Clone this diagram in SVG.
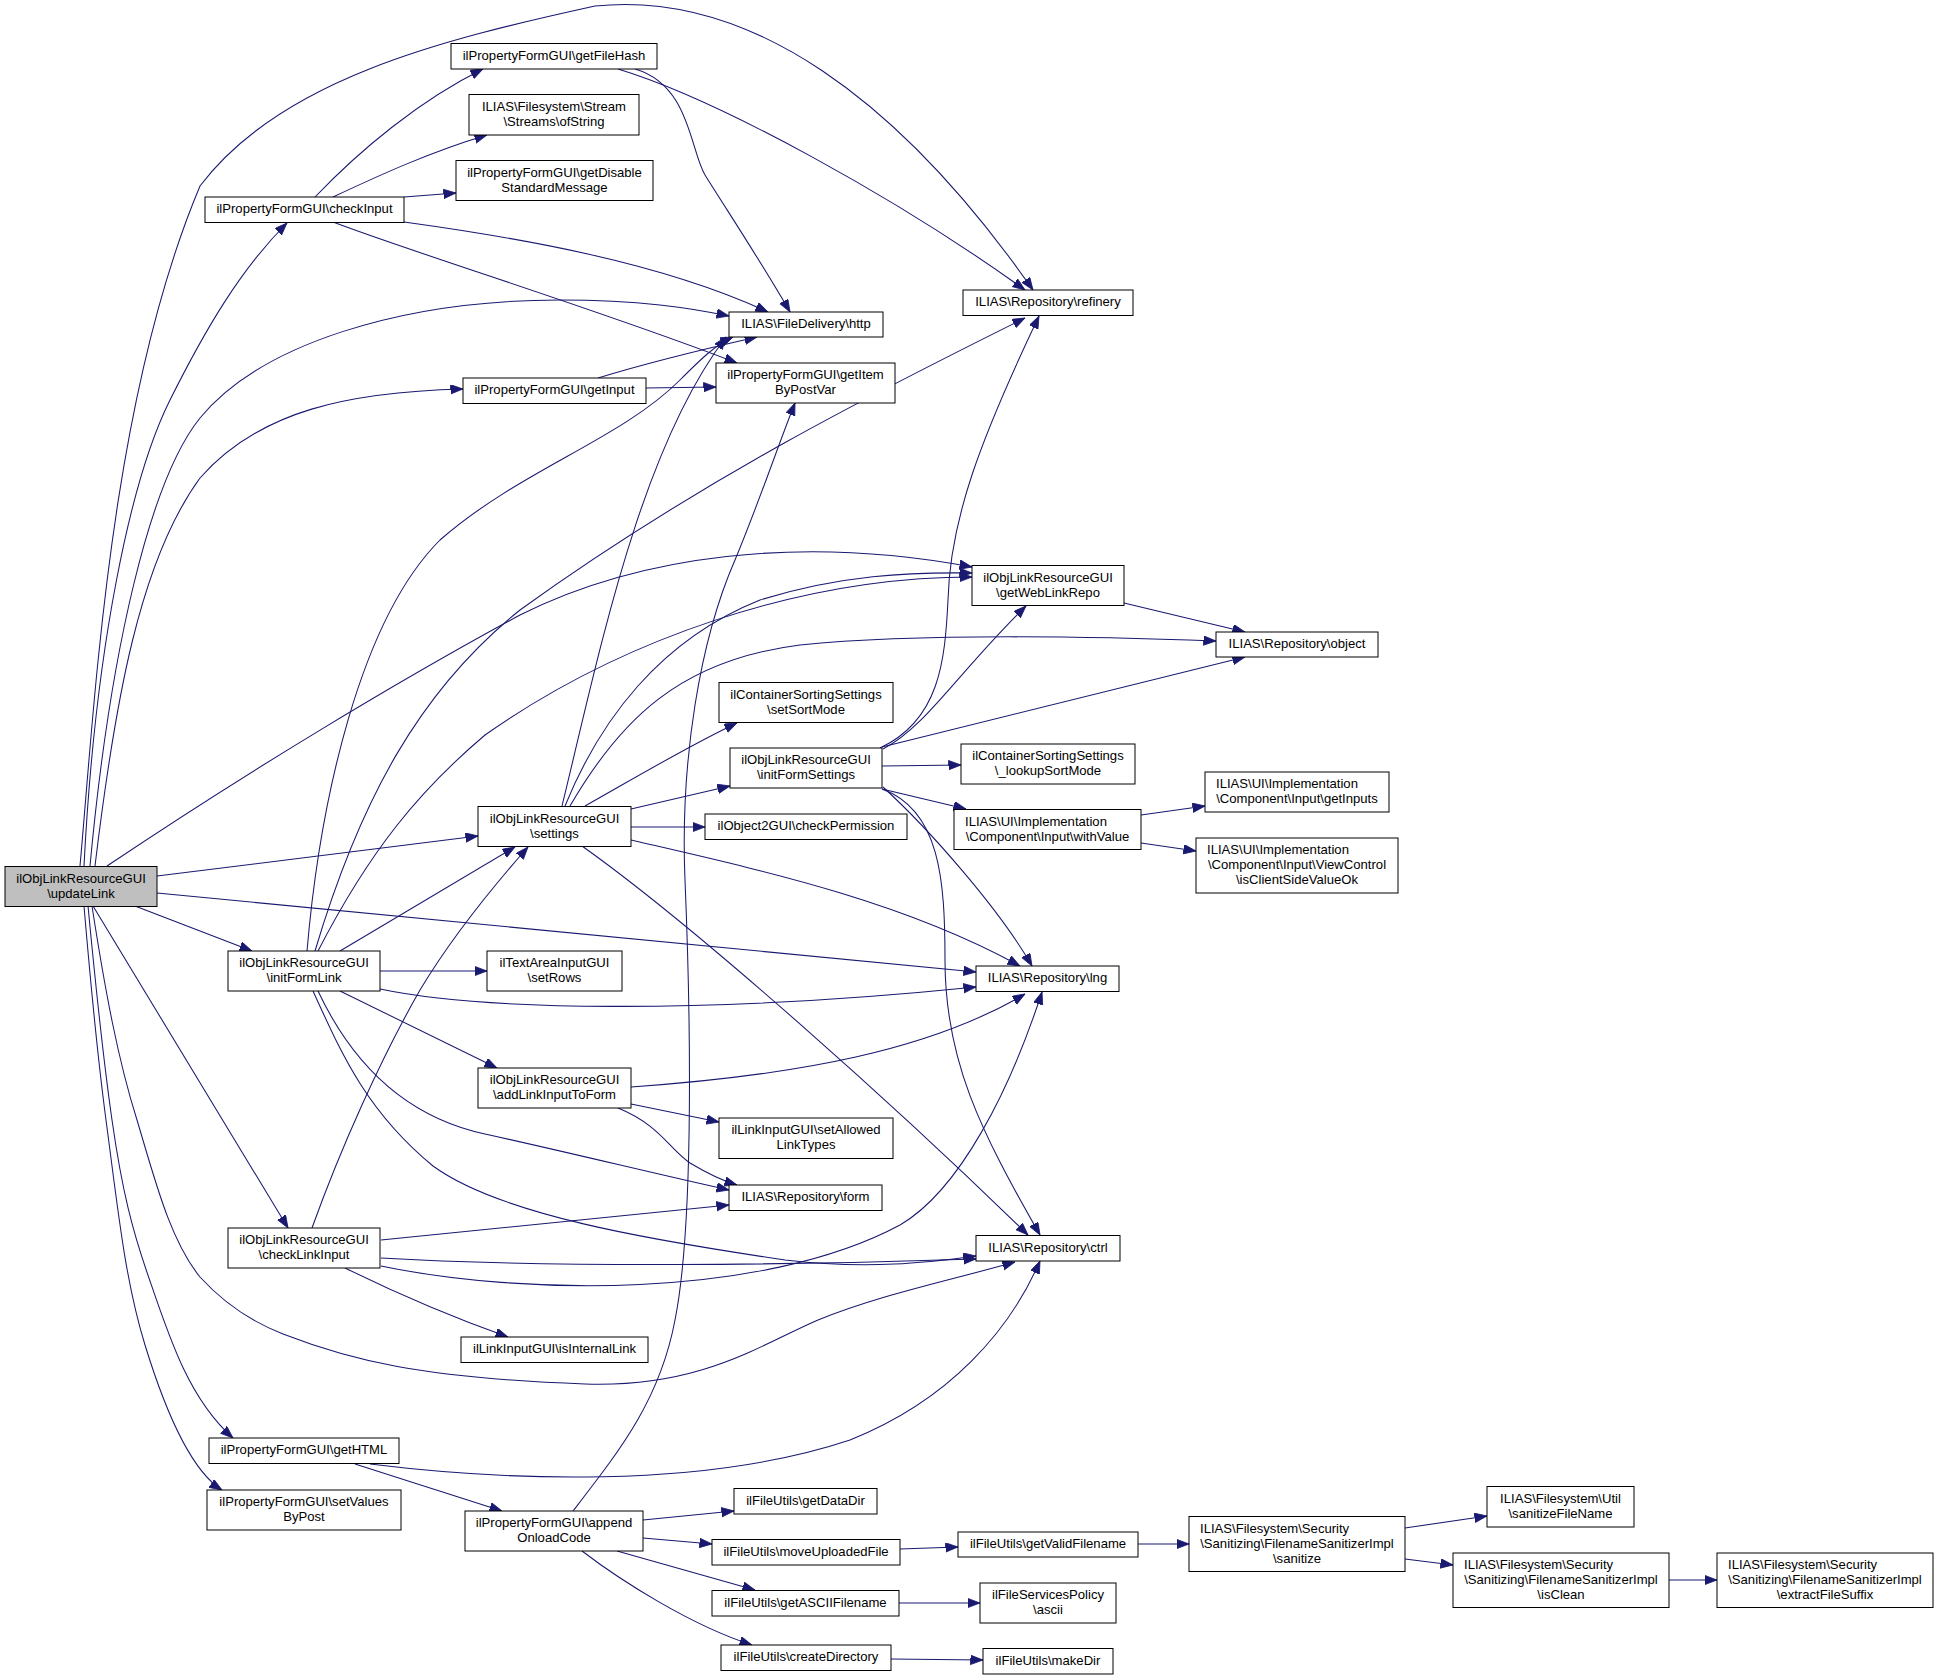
<svg xmlns="http://www.w3.org/2000/svg" width="1939" height="1680" viewBox="0 0 1939 1680">
<style>
rect{fill:#fff;stroke:#000;stroke-width:1}
rect.root{fill:#bfbfbf}
text{font-family:"Liberation Sans",Arial,Helvetica,sans-serif;font-size:13.1px;fill:#000;text-anchor:middle}
text.l{text-anchor:start}
#edges path{fill:none;stroke:#191970;stroke-width:1.05;marker-end:url(#a)}
</style>
<defs>
<marker id="a" markerUnits="userSpaceOnUse" markerWidth="14" markerHeight="11" refX="12.5" refY="4.75" orient="auto">
<path d="M0,0 L12.5,4.75 L0,9.5 z" fill="#191970" stroke="#191970" stroke-width="0.8"/>
</marker>
</defs>
<rect x="0" y="0" width="1939" height="1680" style="fill:#fff;stroke:none"/>
<g id="edges">
<path d="M84,866 C95,650 130,480 170,400 C205,330 240,270 287,223"/>
<path d="M80,866 C95,700 110,400 200,186 C280,80 440,40 595,6 C750,-10 900,100 1033,290"/>
<path d="M90,866 C110,650 150,480 200,418 C260,345 400,300 560,300 C640,300 690,308 729,316"/>
<path d="M95,866 C115,700 140,560 200,478 C260,410 350,392 463,389"/>
<path d="M107,866 C250,770 400,680 520,615 C640,555 800,535 972,567"/>
<path d="M157,876 L478,836"/>
<path d="M135,906 L252,951"/>
<path d="M157,893 L976,972"/>
<path d="M93,906 L288,1228"/>
<path d="M92,906 C105,990 118,1060 137,1120 C155,1180 170,1240 200,1277 C230,1310 260,1325 283,1334 C350,1360 420,1378 585,1384 C700,1388 760,1345 818,1320 C880,1295 940,1283 1015,1262"/>
<path d="M88,906 C96,990 102,1050 112,1120 C122,1190 132,1230 150,1281 C170,1340 190,1400 233,1438"/>
<path d="M84,906 C92,1000 98,1060 106,1120 C118,1210 125,1280 145,1345 C165,1410 190,1470 222,1490"/>
<path d="M315,197 C360,150 420,100 483,69"/>
<path d="M333,197 C380,175 430,152 487,135"/>
<path d="M404,197 L456,193"/>
<path d="M404,222 C520,238 660,262 768,312"/>
<path d="M333,222 C420,255 600,310 737,363"/>
<path d="M635,69 C690,85 690,150 705,175 C730,215 760,260 790,312"/>
<path d="M618,69 C720,100 900,200 1025,290"/>
<path d="M598,378 C650,362 700,350 757,337"/>
<path d="M646,388 L716,387"/>
<path d="M562,806 C600,650 640,450 726,337"/>
<path d="M565,806 C600,720 660,640 760,600 C840,575 910,572 972,573"/>
<path d="M570,806 C620,720 680,660 800,645 C900,635 1050,635 1216,641"/>
<path d="M585,806 C640,775 690,745 737,723"/>
<path d="M631,809 L730,786"/>
<path d="M631,827 L705,827"/>
<path d="M631,840 C760,870 900,900 1020,966"/>
<path d="M582,846 C700,930 900,1110 1028,1235"/>
<path d="M880,748 C940,720 945,660 948,600 C950,520 980,440 1039,316"/>
<path d="M883,749 C925,728 960,670 1026,606"/>
<path d="M882,747 L1245,657"/>
<path d="M882,766 L961,765"/>
<path d="M882,789 L966,809"/>
<path d="M883,787 C930,830 1000,910 1032,966"/>
<path d="M882,789 C940,810 945,880 945,960 C945,1060 980,1130 1040,1235"/>
<path d="M1124,603 L1245,632"/>
<path d="M1141,815 L1205,806"/>
<path d="M1141,843 L1196,851"/>
<path d="M307,951 C320,800 360,620 440,540 C520,470 620,440 680,380 C700,360 715,345 733,337"/>
<path d="M315,951 C360,800 420,690 520,610 C700,480 880,390 1025,318"/>
<path d="M318,951 C370,850 420,790 485,735 C620,640 800,577 972,577"/>
<path d="M340,951 L515,847"/>
<path d="M380,971 L487,971"/>
<path d="M380,989 C480,1010 700,1015 976,987"/>
<path d="M340,991 L497,1068"/>
<path d="M318,991 C360,1080 420,1120 485,1134 C580,1155 660,1175 729,1190"/>
<path d="M313,991 C340,1050 365,1110 433,1166 C500,1215 650,1240 785,1260 C870,1270 930,1262 976,1256"/>
<path d="M631,1087 C800,1075 930,1050 1025,994"/>
<path d="M631,1104 L719,1122"/>
<path d="M618,1108 C660,1125 670,1150 690,1163 C705,1172 720,1180 737,1185"/>
<path d="M312,1228 C340,1150 380,1060 420,990 C450,940 490,890 528,847"/>
<path d="M381,1240 L729,1205"/>
<path d="M381,1266 C520,1295 760,1300 900,1225 C960,1190 1010,1090 1042,992"/>
<path d="M381,1258 C550,1268 800,1265 976,1259"/>
<path d="M345,1268 C400,1295 460,1320 508,1337"/>
<path d="M370,1464 C500,1480 700,1490 850,1440 C950,1400 1010,1330 1040,1261"/>
<path d="M355,1464 L502,1511"/>
<path d="M573,1511 C620,1450 660,1400 675,1320 C695,1220 690,1000 685,880 C680,760 700,640 735,560 C760,500 780,440 795,403"/>
<path d="M643,1520 L734,1511"/>
<path d="M643,1538 L712,1544"/>
<path d="M617,1551 L755,1590"/>
<path d="M582,1551 C620,1580 690,1625 752,1645"/>
<path d="M900,1549 L958,1547"/>
<path d="M899,1603 L980,1603"/>
<path d="M891,1659 L983,1660"/>
<path d="M1138,1544 L1189,1544"/>
<path d="M1405,1528 L1487,1516"/>
<path d="M1405,1559 L1453,1565"/>
<path d="M1669,1580 L1717,1580"/>
</g>
<g id="n_updateLink"><rect class="root" x="5" y="866.5" width="152" height="40"/><text x="81" y="882.5">ilObjLinkResourceGUI</text><text x="81" y="897.5">\updateLink</text></g>
<g id="n_checkInput"><rect x="205" y="197" width="199" height="25.5"/><text x="304.5" y="213">ilPropertyFormGUI\checkInput</text></g>
<g id="n_getFileHash"><rect x="451" y="43.5" width="206" height="25.5"/><text x="554" y="59.5">ilPropertyFormGUI\getFileHash</text></g>
<g id="n_ofString"><rect x="469" y="94.5" width="170" height="40.5"/><text x="554" y="110.5">ILIAS\Filesystem\Stream</text><text x="554" y="125.5">\Streams\ofString</text></g>
<g id="n_getDisable"><rect x="456" y="160.5" width="197" height="40"/><text x="554.5" y="176.5">ilPropertyFormGUI\getDisable</text><text x="554.5" y="191.5">StandardMessage</text></g>
<g id="n_getInput"><rect x="463" y="378" width="183" height="25.5"/><text x="554.5" y="394">ilPropertyFormGUI\getInput</text></g>
<g id="n_http"><rect x="729" y="312" width="154" height="25"/><text x="806" y="328">ILIAS\FileDelivery\http</text></g>
<g id="n_getItemByPostVar"><rect x="716" y="363" width="179" height="40"/><text x="805.5" y="379">ilPropertyFormGUI\getItem</text><text x="805.5" y="394">ByPostVar</text></g>
<g id="n_refinery"><rect x="963" y="290" width="170" height="25.5"/><text x="1048" y="306">ILIAS\Repository\refinery</text></g>
<g id="n_getWebLinkRepo"><rect x="972" y="565.5" width="152" height="40"/><text x="1048" y="581.5">ilObjLinkResourceGUI</text><text x="1048" y="596.5">\getWebLinkRepo</text></g>
<g id="n_object"><rect x="1216" y="632" width="162" height="25"/><text x="1297" y="648">ILIAS\Repository\object</text></g>
<g id="n_lookupSortMode"><rect x="961" y="744" width="174" height="40"/><text x="1048" y="760">ilContainerSortingSettings</text><text x="1048" y="775">\_lookupSortMode</text></g>
<g id="n_withValue"><rect x="954" y="809.5" width="187" height="40"/><text class="l" x="965" y="825.5">ILIAS\UI\Implementation</text><text x="1047.5" y="840.5">\Component\Input\withValue</text></g>
<g id="n_getInputs"><rect x="1205" y="772" width="184" height="40"/><text class="l" x="1216" y="788">ILIAS\UI\Implementation</text><text x="1297" y="803">\Component\Input\getInputs</text></g>
<g id="n_isClientSideValueOk"><rect x="1196" y="838" width="202" height="55"/><text class="l" x="1207" y="854">ILIAS\UI\Implementation</text><text x="1297" y="869">\Component\Input\ViewControl</text><text x="1297" y="884">\isClientSideValueOk</text></g>
<g id="n_lng"><rect x="976" y="966" width="143" height="25.5"/><text x="1047.5" y="982">ILIAS\Repository\lng</text></g>
<g id="n_setSortMode"><rect x="719" y="682.5" width="174" height="40"/><text x="806" y="698.5">ilContainerSortingSettings</text><text x="806" y="713.5">\setSortMode</text></g>
<g id="n_initFormSettings"><rect x="730" y="748" width="152" height="40"/><text x="806" y="764">ilObjLinkResourceGUI</text><text x="806" y="779">\initFormSettings</text></g>
<g id="n_settings"><rect x="478" y="806.5" width="153" height="40"/><text x="554.5" y="822.5">ilObjLinkResourceGUI</text><text x="554.5" y="837.5">\settings</text></g>
<g id="n_checkPermission"><rect x="705" y="814" width="202" height="25.5"/><text x="806" y="830">ilObject2GUI\checkPermission</text></g>
<g id="n_setRows"><rect x="487" y="951" width="135" height="40"/><text x="554.5" y="967">ilTextAreaInputGUI</text><text x="554.5" y="982">\setRows</text></g>
<g id="n_addLinkInputToForm"><rect x="478" y="1068" width="153" height="40"/><text x="554.5" y="1084">ilObjLinkResourceGUI</text><text x="554.5" y="1099">\addLinkInputToForm</text></g>
<g id="n_initFormLink"><rect x="228" y="951" width="152" height="40"/><text x="304" y="967">ilObjLinkResourceGUI</text><text x="304" y="982">\initFormLink</text></g>
<g id="n_setAllowedLinkTypes"><rect x="719" y="1118" width="174" height="40.5"/><text x="806" y="1134">ilLinkInputGUI\setAllowed</text><text x="806" y="1149">LinkTypes</text></g>
<g id="n_form"><rect x="729" y="1185" width="153" height="25.5"/><text x="805.5" y="1201">ILIAS\Repository\form</text></g>
<g id="n_ctrl"><rect x="976" y="1235.5" width="144" height="25.5"/><text x="1048" y="1251.5">ILIAS\Repository\ctrl</text></g>
<g id="n_checkLinkInput"><rect x="228" y="1228" width="152" height="40"/><text x="304" y="1244">ilObjLinkResourceGUI</text><text x="304" y="1259">\checkLinkInput</text></g>
<g id="n_isInternalLink"><rect x="461" y="1337" width="187" height="25.5"/><text x="554.5" y="1353">ilLinkInputGUI\isInternalLink</text></g>
<g id="n_getHTML"><rect x="209" y="1438" width="190" height="25.5"/><text x="304" y="1454">ilPropertyFormGUI\getHTML</text></g>
<g id="n_setValuesByPost"><rect x="207" y="1490" width="194" height="40"/><text x="304" y="1506">ilPropertyFormGUI\setValues</text><text x="304" y="1521">ByPost</text></g>
<g id="n_appendOnloadCode"><rect x="465" y="1511" width="178" height="40"/><text x="554" y="1527">ilPropertyFormGUI\append</text><text x="554" y="1542">OnloadCode</text></g>
<g id="n_getDataDir"><rect x="734" y="1488.5" width="143" height="25.5"/><text x="805.5" y="1504.5">ilFileUtils\getDataDir</text></g>
<g id="n_moveUploadedFile"><rect x="712" y="1539.5" width="188" height="25.5"/><text x="806" y="1555.5">ilFileUtils\moveUploadedFile</text></g>
<g id="n_getASCIIFilename"><rect x="712" y="1590.5" width="187" height="25.5"/><text x="805.5" y="1606.5">ilFileUtils\getASCIIFilename</text></g>
<g id="n_createDirectory"><rect x="721" y="1645" width="170" height="25.5"/><text x="806" y="1661">ilFileUtils\createDirectory</text></g>
<g id="n_getValidFilename"><rect x="958" y="1532" width="180" height="25"/><text x="1048" y="1548">ilFileUtils\getValidFilename</text></g>
<g id="n_ascii"><rect x="980" y="1583" width="136" height="40"/><text x="1048" y="1599">ilFileServicesPolicy</text><text x="1048" y="1614">\ascii</text></g>
<g id="n_makeDir"><rect x="983" y="1648.5" width="130" height="25.5"/><text x="1048" y="1664.5">ilFileUtils\makeDir</text></g>
<g id="n_sanitize"><rect x="1189" y="1516.5" width="216" height="55"/><text class="l" x="1200" y="1532.5">ILIAS\Filesystem\Security</text><text x="1297" y="1547.5">\Sanitizing\FilenameSanitizerImpl</text><text x="1297" y="1562.5">\sanitize</text></g>
<g id="n_sanitizeFileName"><rect x="1487" y="1486.5" width="147" height="40.5"/><text x="1560.5" y="1502.5">ILIAS\Filesystem\Util</text><text x="1560.5" y="1517.5">\sanitizeFileName</text></g>
<g id="n_isClean"><rect x="1453" y="1553" width="216" height="54.5"/><text class="l" x="1464" y="1569">ILIAS\Filesystem\Security</text><text x="1561" y="1584">\Sanitizing\FilenameSanitizerImpl</text><text x="1561" y="1599">\isClean</text></g>
<g id="n_extractFileSuffix"><rect x="1717" y="1553" width="216" height="54.5"/><text class="l" x="1728" y="1569">ILIAS\Filesystem\Security</text><text x="1825" y="1584">\Sanitizing\FilenameSanitizerImpl</text><text x="1825" y="1599">\extractFileSuffix</text></g>
</svg>
